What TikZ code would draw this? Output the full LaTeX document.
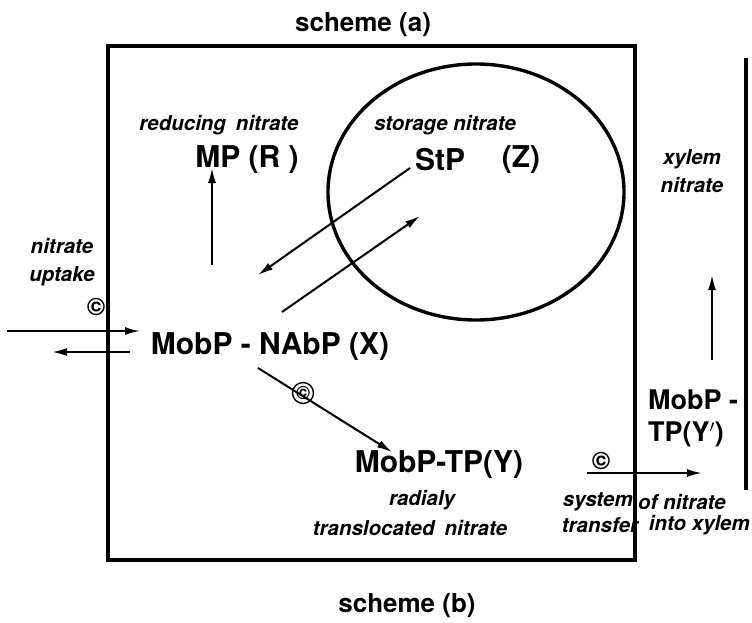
\documentclass[tikz,border=0pt]{standalone}
\usepackage{fontspec}
\setmainfont{TeX Gyre Heros}
\usetikzlibrary{arrows.meta}
\tikzset{
  big/.style={inner sep=0pt, font=\fontsize{30}{34}\selectfont\bfseries},
  mid/.style={inner sep=0pt, font=\fontsize{27}{30}\selectfont\bfseries},
  ttl/.style={inner sep=0pt, font=\fontsize{26}{30}\selectfont\bfseries},
  lbl/.style={inner sep=0pt, font=\fontsize{20.5}{28}\selectfont\bfseries\itshape},
  cpy/.style={inner sep=0pt, font=\fontsize{25}{26}\selectfont\bfseries},
  scpy/.style={inner sep=0pt, font=\fontsize{19}{20}\selectfont\bfseries},
  frame/.style={line width=3.4pt},
  arr/.style={line width=2pt, -{Latex[length=15pt,width=8pt]}}
}
\begin{document}
\begin{tikzpicture}[x=1pt,y=-1pt]
\useasboundingbox (0,0) rectangle (752,623);
% frames
\draw[frame] (108,46) rectangle (635,560);
\draw[frame] (476,192) ellipse [x radius=148, y radius=128];
\draw[frame] (746,58) -- (746,490);
% titles
\node[ttl] (ta) at (363,25) {scheme (a)};
\node[ttl] (tb) at (407,606) {scheme (b)};
% labels
\node[lbl] (red) at (219,125) {reducing\hspace{10pt}nitrate};
\node[big] (mp) at (247,160) {MP (R )};
\node[lbl] (sto) at (445,125) {storage nitrate};
\node[big] (stp) at (440,160) {StP};
\node[big] (z) at (521,160) {(Z)};
\node[lbl, align=center] (upt) at (62,262) {nitrate\\uptake};
\node[cpy] (c1) at (96,307) {©};
\node[big] (x) at (270,347) {MobP - NAbP (X)};
\node[scpy] (c2) at (303,393) {©};
\draw[line width=1.4pt] (c2) circle (10.5pt);
\node[big] (y) at (439,465) {MobP-TP(Y)};
\node[lbl] (rad) at (422,500) {radialy};
\node[lbl] (tra) at (410,528) {translocated\hspace{10pt}nitrate};
\node[cpy] (c3) at (601,461) {©};
\node[lbl, anchor=east] (sys) at (633,502) {system};
\node[lbl, anchor=west] (ofn) at (638,502) {of nitrate};
\node[lbl] (tsf) at (600,525) {transfer};
\node[lbl, anchor=east] (ixy) at (750,525) {into xylem};
\node[lbl, align=center] (xyl) at (692,171) {xylem\\nitrate};
\node[mid, anchor=west] (yp1) at (648,400) {MobP -};
\node[mid, anchor=west] (yp2) at (648,434) {TP(Y$'$)};
% connector end points
\coordinate (u1) at (7,331);
\coordinate (u2) at (140,331);
\coordinate (d1) at (130,352);
\coordinate (d2) at (52,352);
\coordinate (m1) at (212,265);
\coordinate (m2) at (212,168);
\coordinate (s1) at (410,168);
\coordinate (s2) at (258,275);
\coordinate (r1) at (282,312);
\coordinate (r2) at (420,216);
\coordinate (y1) at (258,368);
\coordinate (y2) at (392,452);
\coordinate (t1) at (587,473);
\coordinate (t2) at (702,473);
\coordinate (x1) at (712,360);
\coordinate (x2) at (712,275);
% connectors
\draw[arr] (u1) -- (u2);
\draw[arr] (d1) -- (d2);
\draw[arr] (m1) -- (m2);
\draw[arr] (s1) -- (s2);
\draw[arr] (r1) -- (r2);
\draw[arr] (y1) -- (y2);
\draw[arr] (t1) -- (t2);
\draw[arr] (x1) -- (x2);
\end{tikzpicture}
\end{document}
